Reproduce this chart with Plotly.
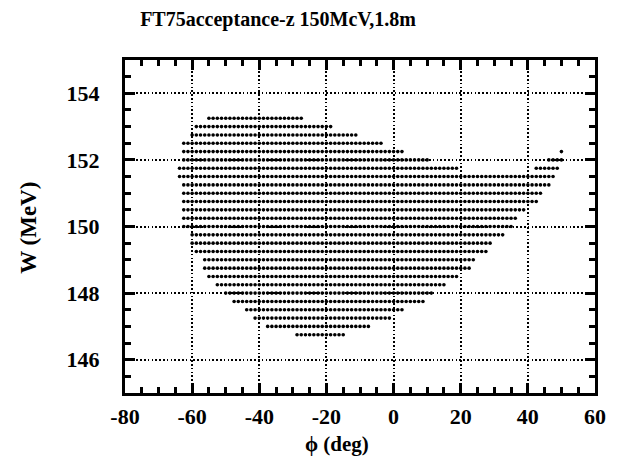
import plotly.graph_objects as go

# Acceptance region: rows of constant W (MeV), each with phi extent (deg)
W_levels = [153.25, 153.0, 152.75, 152.5, 152.25, 152.0, 151.75, 151.5, 151.25,
            151.0, 150.75, 150.5, 150.25, 150.0, 149.75, 149.5, 149.25, 149.0,
            148.75, 148.5, 148.25, 148.0, 147.75, 147.5, 147.25, 147.0, 146.75]
phi_start = [-55, -58.75, -60, -62.5, -62.5, -62.5, -63.75, -63.75, -62.5,
             -62.5, -62.5, -62.5, -62.5, -62.5, -60, -60, -58.75, -56.25,
             -56.25, -55, -52.5, -50, -47.5, -43.75, -41.25, -37.5, -28.75]
phi_end = [-27.5, -18.75, -11.25, -3.75, 2.5, 10, 18.75, 47.5, 46.25,
           43.75, 42.5, 38.75, 36.25, 35, 32.5, 28.75, 27.5, 23.75,
           22.5, 18.75, 15, 11.25, 8.75, 2.5, -1.25, -7.5, -15]
# detached segments on the upper right
extra_W = [152.25, 152.0, 151.75]
extra_start = [50, 46.25, 42.5]
extra_end = [50, 50, 48.75]
phi_step = 1.25

x_ticks = [-80, -60, -40, -20, 0, 20, 40, 60]
x_ticklabels = ["-80", "-60", "-40", "-20", "0", "20", "40", "60"]
y_ticks = [146, 148, 150, 152, 154]
y_ticklabels = ["146", "148", "150", "152", "154"]

xs, ys = [], []
for W, a, b in list(zip(W_levels, phi_start, phi_end)) + list(zip(extra_W, extra_start, extra_end)):
    k0, k1 = round(a / phi_step), round(b / phi_step)
    for k in range(k0, k1 + 1):
        xs.append(k * phi_step)
        ys.append(W)

fig = go.Figure()
fig.add_trace(go.Scatter(x=xs, y=ys, mode="markers",
                         marker=dict(size=3.6, color="black", line=dict(width=0)),
                         showlegend=False, hoverinfo="skip"))

font_family = "Liberation Serif"
axis_common = dict(
    showline=True, linecolor="black", linewidth=3, mirror="allticks",
    ticks="inside", ticklen=10, tickwidth=2.5, tickcolor="black",
    showgrid=True, gridcolor="black", gridwidth=1.6, griddash="1.6px,2.2px",
    zeroline=False,
    tickfont=dict(family=font_family, size=22, color="black", weight="bold"),
)

fig.update_xaxes(range=[-80, 60], tickvals=x_ticks, ticktext=x_ticklabels,
                 ticklabelstandoff=2,
                 minor=dict(dtick=5, ticks="inside", ticklen=6, tickwidth=2.5,
                            tickcolor="black", showgrid=False),
                 **axis_common)
fig.update_yaxes(range=[145, 155], tickvals=y_ticks, ticktext=y_ticklabels,
                 ticklabelstandoff=18,
                 minor=dict(dtick=0.5, ticks="inside", ticklen=6, tickwidth=2.5,
                            tickcolor="black", showgrid=False),
                 **axis_common)

fig.update_layout(
    width=618, height=469,
    margin=dict(l=125, r=21, t=60, b=76),
    paper_bgcolor="white", plot_bgcolor="white",
    title=dict(text="FT75acceptance-z 150McV,1.8m", x=278 / 618, xref="container",
               xanchor="center", y=1 - 19 / 469, yref="container", yanchor="middle",
               font=dict(family=font_family, size=20, color="black", weight="bold")),
    annotations=[
        dict(text="W (MeV)", xref="paper", yref="paper", x=-0.205, y=0.495,
             textangle=-90, showarrow=False, xanchor="center", yanchor="middle",
             font=dict(family=font_family, size=23, color="black", weight="bold")),
        dict(text="ϕ (deg)", xref="paper", yref="paper", x=0.451, y=-0.153,
             showarrow=False, xanchor="center", yanchor="middle",
             font=dict(family=font_family, size=21, color="black", weight="bold")),
    ],
)

fig.write_html("out.html")
